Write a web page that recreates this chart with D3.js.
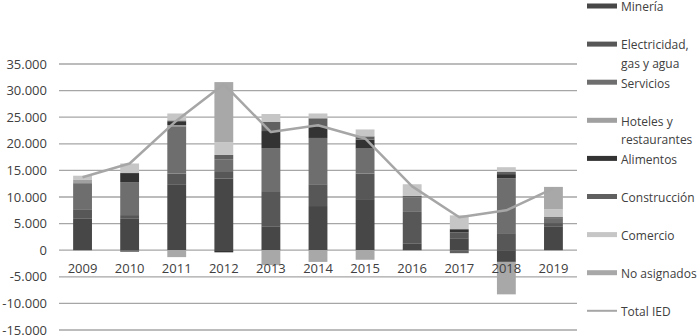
<!DOCTYPE html>
<html><head><meta charset="utf-8">
<script src="https://cdn.jsdelivr.net/npm/d3@7"></script>
<style>
html,body{margin:0;padding:0;background:#fff;}
svg{display:block;font-family:"Open Sans",sans-serif;}
</style></head>
<body>
<svg id="c" width="700" height="335"></svg>
<script>
const years = ["2009","2010","2011","2012","2013","2014","2015","2016","2017","2018","2019"];
const mineria      = [6000, 6000, 12400, 13500, 4500, 8300, 9600, 1300, 2250, -2200, 4500];
const electricidad = [1700,  600,  2000,  1200, 6600, 4100, 4800, 5900, 1100,  3200,  600];
const servicios    = [4900, 6200,  8900,  2400, 8100, 8700, 4700, 2700,    0, 10300,  900];
const hoteles      = [ 700,    0,   200,     0,    0,    0,    0,    0,    0,     0,    0];
const alimentos    = [   0, 1700,   600,  -400, 3200, 2200, 1700,    0,  600,   800,  200];
const construccion = [   0, -300,   300,   800, 1700, 1500,  600,  300, -560,   400,    0];
const comercio     = [ 700, 1800,  1300,  2400, 1500,  900, 1300, 2200, 2600,   900, 1500];
const noAsignados  = [   0,    0, -1300, 11300,-2800,-2200,-1800,    0,    0, -6100, 4200];
const totalIED     = [13700,16300, 24400, 31200,22200,23500,21000,12000, 6200,  7500,11600];
const yTicks = [-15000,-10000,-5000,0,5000,10000,15000,20000,25000,30000,35000];

const seriesNames = ["Minería","Electricidad, gas y agua","Servicios","Hoteles y restaurantes","Alimentos","Construcción","Comercio","No asignados"];
const seriesData = [mineria, electricidad, servicios, hoteles, alimentos, construccion, comercio, noAsignados];
const legendLines = [["Minería"],["Electricidad,","gas y agua"],["Servicios"],["Hoteles y","restaurantes"],["Alimentos"],["Construcción"],["Comercio"],["No asignados"],["Total IED"]];
const colors = ["#474747","#575757","#6e6e6e","#a0a0a0","#333333","#606060","#c6c6c6","#a8a8a8"];
const lineColor = "#a6a6a6";

const svg = d3.select("#c");
const x = d3.scaleBand().domain(years).range([59,577]).paddingInner(0.6).paddingOuter(0.3);
const y = d3.scaleLinear().domain([-15000,35000]).range([330,64]);

// grid
svg.append("g").selectAll("line").data(yTicks).join("line")
  .attr("x1",59).attr("x2",577)
  .attr("y1",d=>y(d)).attr("y2",d=>y(d))
  .attr("stroke","#a6a6a6").attr("stroke-width",1.3);

// y labels
const fmt = v => d3.format(",")(v).replace(/,/g,".").replace("−","-");
svg.append("g").selectAll("text").data(yTicks).join("text")
  .attr("x",47).attr("y",d=>y(d)).attr("dy","0.36em")
  .attr("text-anchor","end").attr("font-size",13).attr("fill","#404040")
  .text(d=>fmt(d));

// stack
const rows = years.map((yr,i)=>{const o={year:yr}; seriesNames.forEach((n,k)=>o[n]=seriesData[k][i]); return o;});
const stack = d3.stack().keys(seriesNames).offset(d3.stackOffsetDiverging)(rows);
svg.append("g").selectAll("g").data(stack).join("g")
  .attr("fill",(d,i)=>colors[i])
  .selectAll("rect").data(d=>d).join("rect")
  .attr("x",d=>x(d.data.year)).attr("width",x.bandwidth())
  .attr("y",d=>y(Math.max(d[0],d[1])))
  .attr("height",d=>Math.abs(y(d[0])-y(d[1])));

// x labels
svg.append("g").selectAll("text").data(years).join("text")
  .attr("x",d=>x(d)+x.bandwidth()/2).attr("y",268).attr("dy","0.36em")
  .attr("text-anchor","middle").attr("font-size",13).attr("fill","#404040")
  .text(d=>d);

// total line
const line = d3.line().x((d,i)=>x(years[i])+x.bandwidth()/2).y(d=>y(d));
svg.append("path").datum(totalIED).attr("d",line)
  .attr("fill","none").attr("stroke",lineColor).attr("stroke-width",2.5).attr("stroke-linejoin","round");

// legend
const lg = svg.append("g");
legendLines.forEach((lines,i)=>{
  const cy = 6 + i*38.1;
  if(i<8){
    lg.append("rect").attr("x",587).attr("y",cy-2.5).attr("width",30).attr("height",5).attr("fill",colors[i]);
  } else {
    lg.append("line").attr("x1",587).attr("x2",617).attr("y1",cy).attr("y2",cy).attr("stroke",lineColor).attr("stroke-width",2);
  }
  lines.forEach((t,j)=>{
    lg.append("text").attr("x",621).attr("y",cy+1+j*18.5).attr("dy","0.36em")
      .attr("font-size",12).attr("fill","#404040").text(t);
  });
});
</script>
</body></html>
